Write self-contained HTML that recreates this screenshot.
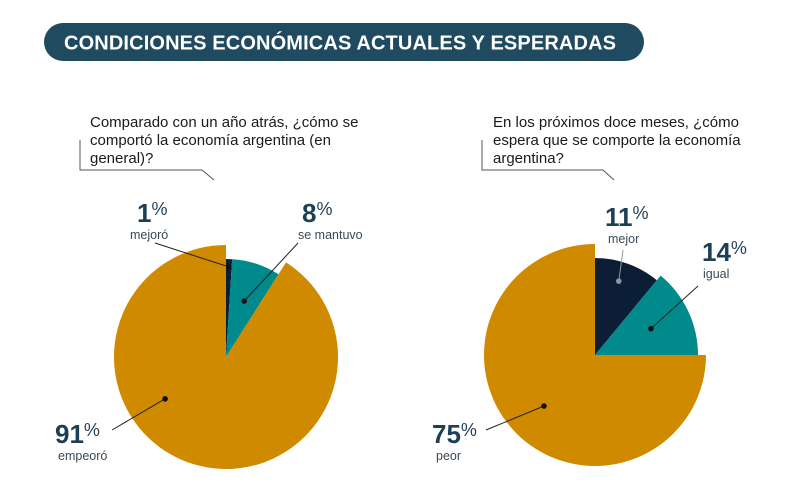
<!DOCTYPE html>
<html><head><meta charset="utf-8">
<style>
body{margin:0;background:#fff;width:800px;height:500px;overflow:hidden;font-family:"Liberation Sans",sans-serif}
svg{display:block}
.q{font-size:15px;fill:#1a1a1a}
.pct{font-size:26px;font-weight:bold;fill:#1d3f55}
.ps{font-size:18px;font-weight:normal}
.lbl{font-size:12.5px;fill:#3b4a55}
</style></head>
<body>
<svg id="chart" width="800" height="500" viewBox="0 0 800 500">
<rect x="44" y="23" width="600" height="38" rx="19" fill="#1f4a5f"/>
<text x="64" y="49.5" fill="#fff" font-size="20" font-weight="bold" textLength="552">CONDICIONES ECONÓMICAS ACTUALES Y ESPERADAS</text>

<g>
<text class="q" x="90" y="127">Comparado con un año atrás, ¿cómo se</text>
<text class="q" x="90" y="145">comportó la economía argentina (en</text>
<text class="q" x="90" y="163">general)?</text>
<polyline points="80,140 80,170 202,170 214,180" fill="none" stroke="#555" stroke-width="1"/>
</g>
<g>
<text class="q" x="493" y="127">En los próximos doce meses, ¿cómo</text>
<text class="q" x="493" y="145">espera que se comporte la economía</text>
<text class="q" x="493" y="163">argentina?</text>
<polyline points="482,140 482,170 603,170 614,180" fill="none" stroke="#555" stroke-width="1"/>
</g>
<g id="pies"></g>
<g id="labels"></g>
</svg>
<script>
const leftCats = ["mejoró","se mantuvo","empeoró"];
const leftValues = [1, 8, 91];
const rightCats = ["mejor","igual","peor"];
const rightValues = [11, 14, 75];
const colors = ["#0c1e36","#008a8c","#cf8a00"];
const NS="http://www.w3.org/2000/svg";
const pies=document.getElementById('pies');
const labels=document.getElementById('labels');
function angleOf(frac){return frac*2*Math.PI;}
function pt(cx,cy,r,a){return [cx+r*Math.sin(a),cy-r*Math.cos(a)];}
function drawPie(cx,cy,values,radii,cats,labelPos,side){
  const tot=values.reduce((a,b)=>a+b,0);
  let acc=0;
  values.forEach((v,i)=>{
    const a0=angleOf(acc/tot), a1=angleOf((acc+v)/tot);
    const lp=labelPos[i];
    const mid=a0+(a1-a0)*lp.t;
    const c=[cx,cy], r=radii[i];
    const p0=pt(c[0],c[1],r,a0), p1=pt(c[0],c[1],r,a1);
    const large=(a1-a0)>Math.PI?1:0;
    const p=document.createElementNS(NS,'path');
    p.setAttribute('d',`M${c[0]},${c[1]} L${p0[0]},${p0[1]} A${r},${r} 0 ${large} 1 ${p1[0]},${p1[1]} Z`);
    p.setAttribute('fill',colors[i]);
    
    
    pies.appendChild(p);
    const d=pt(c[0],c[1],r*lp.f,mid);
    const ln=document.createElementNS(NS,'line');
    ln.setAttribute('x1',lp.lx);ln.setAttribute('y1',lp.ly);ln.setAttribute('x2',d[0]);ln.setAttribute('y2',d[1]);
    ln.setAttribute('stroke', i===0&&side==='right'?'#8a98a4':'#222');ln.setAttribute('stroke-width','1');
    
    
    labels.appendChild(ln);
    const dot=document.createElementNS(NS,'circle');
    dot.setAttribute('cx',d[0]);dot.setAttribute('cy',d[1]);dot.setAttribute('r',2.8);
    dot.setAttribute('fill', i===0&&side==='right'?'#8a98a4':'#111');
    
    
    labels.appendChild(dot);
    const t=document.createElementNS(NS,'text');
    t.setAttribute('x',lp.x);t.setAttribute('y',lp.y);t.setAttribute('class','pct');
    t.innerHTML=v+'<tspan class="ps" dy="-7">%</tspan>';
    
    
    labels.appendChild(t);
    const l=document.createElementNS(NS,'text');
    l.setAttribute('x',lp.x2);l.setAttribute('y',lp.y+17);l.setAttribute('class','lbl');
    l.textContent=cats[i];
    
    
    labels.appendChild(l);
    acc+=v;
  });
}
drawPie(226,357,leftValues,[98,98,112],leftCats,[
  {x:137,y:222,x2:130,lx:155,ly:243,t:0.5,f:0.92},
  {x:302,y:222,x2:298,lx:298,ly:243,t:0.5,f:0.6},
  {x:55,y:443,x2:58,lx:112,ly:430,t:0.62,f:0.66}],'left');
drawPie(595,355,rightValues,[97,103,111],rightCats,[
  {x:605,y:226,x2:608,lx:623,ly:250,t:0.45,f:0.8},
  {x:702,y:261,x2:703,lx:698,ly:286,t:0.5,f:0.6},
  {x:432,y:443,x2:436,lx:486,ly:430,t:0.5,f:0.65}],'right');
</script>
</body></html>
